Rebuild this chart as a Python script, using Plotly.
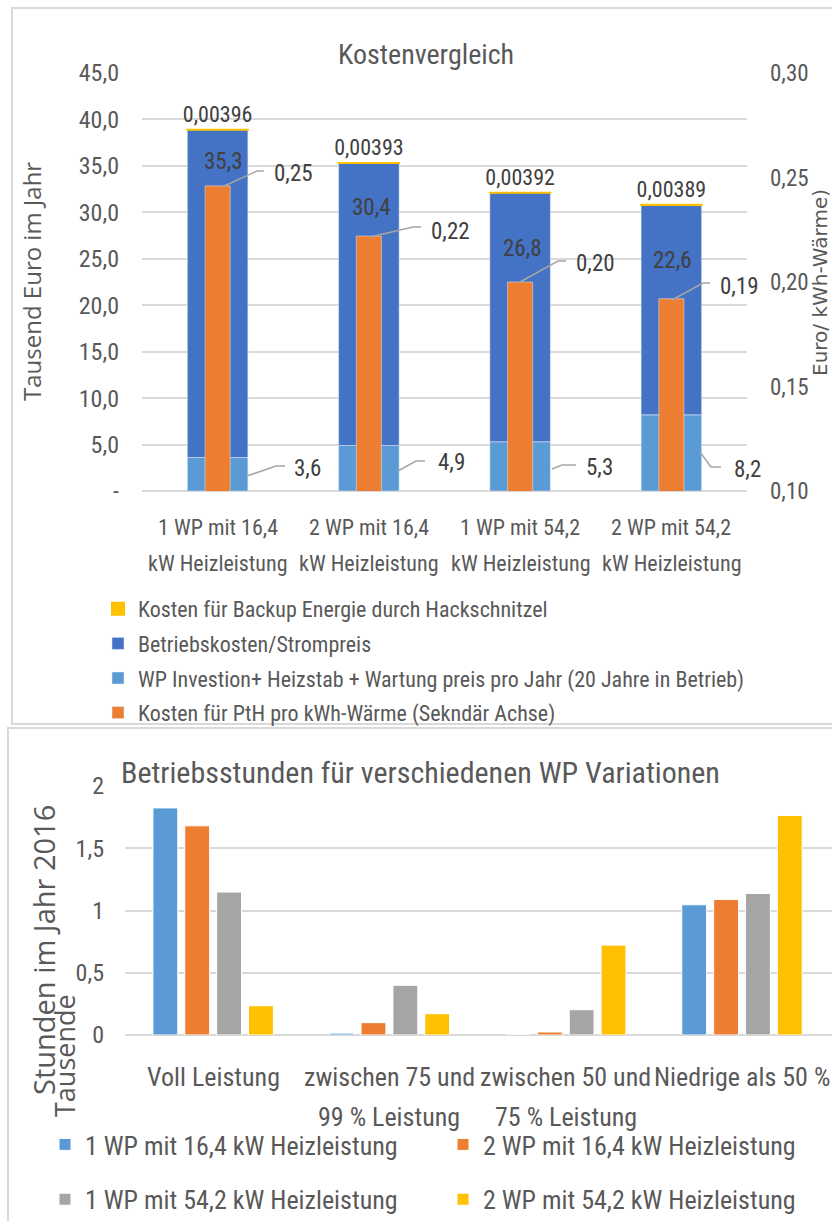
import plotly.graph_objects as go

W, H = 832, 1221

# ---------------- Kostenvergleich ----------------
cost_lines_1 = ["1 WP mit 16,4", "2 WP mit 16,4", "1 WP mit 54,2", "2 WP mit 54,2"]
cost_lines_2 = ["kW Heizleistung", "kW Heizleistung", "kW Heizleistung", "kW Heizleistung"]
invest = [3.6, 4.9, 5.3, 8.2]            # Tausend Euro / Jahr
betrieb = [35.3, 30.4, 26.8, 22.6]       # Tausend Euro / Jahr
backup = [0.00396, 0.00393, 0.00392, 0.00389]
pth = [0.246, 0.222, 0.200, 0.192]       # Euro / kWh-Wärme (secondary axis)

cost_tickvals = [0, 5, 10, 15, 20, 25, 30, 35, 40, 45]
cost_ticktext = ["-", "5,0", "10,0", "15,0", "20,0", "25,0", "30,0", "35,0", "40,0", "45,0"]
pth_tickvals = [0.10, 0.15, 0.20, 0.25, 0.30]

name_backup = "Kosten für Backup Energie durch Hackschnitzel"
name_betrieb = "Betriebskosten/Strompreis"
name_invest = "WP Investion+ Heizstab + Wartung preis pro Jahr (20 Jahre in Betrieb)"
name_pth = "Kosten für PtH pro kWh-Wärme (Sekndär Achse)"

# ---------------- Betriebsstunden ----------------
hour_lines_1 = ["Voll Leistung", "zwischen 75 und", "zwischen 50 und", "Niedrige als 50 %"]
hour_lines_2 = ["", "99 % Leistung", "75 % Leistung", ""]
hours_1wp_16 = [1.824, 0.015, 0.0, 1.046]   # Tausend Stunden
hours_2wp_16 = [1.680, 0.099, 0.024, 1.089]
hours_1wp_54 = [1.148, 0.399, 0.203, 1.137]
hours_2wp_54 = [0.235, 0.171, 0.722, 1.763]
hour_series = ["1 WP mit 16,4 kW Heizleistung", "2 WP mit 16,4 kW Heizleistung",
               "1 WP mit 54,2 kW Heizleistung", "2 WP mit 54,2 kW Heizleistung"]

# ---------------- styling ----------------
NARROW = "Liberation Sans Narrow, Arial Narrow, Roboto Condensed, Liberation Sans, sans-serif"
WIDE = "Open Sans, DejaVu Sans, sans-serif"
TXT = "#595959"
LBL = "#404040"
GRID = "#D9D9D9"
LEADER = "#A6A6A6"
C_LBLUE = "#5B9BD5"
C_DBLUE = "#4472C4"
C_ORANGE = "#ED7D31"
C_YELLOW = "#FFC000"
C_GREY = "#A5A5A5"


def px(x):
    return x / W


def py(y):
    return 1 - y / H


def de(v, nd):
    return f"{v:.{nd}f}".replace(".", ",")


def label(text, x, y, size, family=NARROW, color=TXT, angle=0, xref="paper"):
    """Centered text annotation; y is given in pixels from the top."""
    return dict(text=text, x=x, y=py(y), xref=xref, yref="paper", showarrow=False,
                xanchor="center", yanchor="middle", textangle=angle,
                font=dict(size=size, color=color, family=family))


cost_cats = [f"{a} {b}" for a, b in zip(cost_lines_1, cost_lines_2)]
hour_cats = [f"{a} {b}".strip() for a, b in zip(hour_lines_1, hour_lines_2)]

BW = 0.40     # stacked cost bar width (category units)
OW = 0.166    # PtH bar width

fig = go.Figure()

fig.add_trace(go.Bar(
    x=cost_cats, y=invest, name=name_invest, marker_color=C_LBLUE,
    width=BW, offset=-BW / 2, xaxis="x", yaxis="y", legend="legend", legendrank=3,
    legendgroup="c3"))
fig.add_trace(go.Bar(
    x=cost_cats, y=betrieb, base=invest, name=name_betrieb, marker_color=C_DBLUE,
    width=BW, offset=-BW / 2, xaxis="x", yaxis="y", legend="legend", legendrank=2,
    legendgroup="c2"))
fig.add_trace(go.Bar(
    x=cost_cats, y=backup, base=[a + b for a, b in zip(invest, betrieb)], name=name_backup,
    marker=dict(color=C_YELLOW, line=dict(color=C_YELLOW, width=2)),
    width=BW, offset=-BW / 2, xaxis="x", yaxis="y", legend="legend", legendrank=1,
    legendgroup="c1",
    texttemplate="%{y:.5f}", textposition="outside", constraintext="none", cliponaxis=False,
    textfont=dict(size=22, color=LBL, family=NARROW)))
fig.add_trace(go.Bar(
    x=cost_cats, y=pth, name=name_pth, marker_color=C_ORANGE,
    width=OW, offset=-OW / 2, xaxis="x", yaxis="y2", legend="legend", legendrank=4,
    legendgroup="c4"))

hour_values = [hours_1wp_16, hours_2wp_16, hours_1wp_54, hours_2wp_54]
hour_colors = [C_LBLUE, C_ORANGE, C_GREY, C_YELLOW]
hour_legends = ["legend2", "legend3", "legend2", "legend3"]
for i, (nm, vals, col, lg) in enumerate(zip(hour_series, hour_values, hour_colors, hour_legends)):
    fig.add_trace(go.Bar(
        x=hour_cats, y=vals, name=nm, marker=dict(color=col, line=dict(color="white", width=1)),
        xaxis="x2", yaxis="y3", legend=lg, legendgroup=f"h{i}"))

annotations = []

# titles
annotations.append(label("Kostenvergleich", px(426), 55, 28))
annotations.append(label("Betriebsstunden für verschiedenen WP Variationen", px(420), 772, 30))

# rotated axis titles
annotations.append(label("Tausend Euro im Jahr", px(31), 282, 24, family=WIDE, angle=-90))
annotations.append(label("Euro/ kWh-Wärme)", px(820), 283, 20, family="DejaVu Sans, Open Sans, sans-serif",
                         angle=-90))
annotations.append(label("Stunden im Jahr 2016", px(43), 950, 29, family=WIDE, angle=-90))
annotations.append(label("Tausende", px(64), 1056, 27, family=WIDE, angle=-90))

# two-line category labels
for c, l1, l2 in zip(cost_cats, cost_lines_1, cost_lines_2):
    annotations.append(label(l1, c, 527, 22, xref="x"))
    annotations.append(label(l2, c, 563, 22, xref="x"))
for c, l1, l2 in zip(hour_cats, hour_lines_1, hour_lines_2):
    annotations.append(label(l1, c, 1077, 26, xref="x2"))
    if l2:
        annotations.append(label(l2, c, 1117, 26, xref="x2"))

# value labels of the cost chart
betrieb_pos = [(223, 161), (371, 207), (522, 248), (672, 261)]
pth_pos = [(293, 173), (450, 231), (595, 263), (739, 286)]
invest_pos = [(307, 468), (451, 463), (599, 467), (747, 469)]
for v, (x, y) in zip(betrieb, betrieb_pos):
    annotations.append(label(de(v, 1), px(x), y, 23, color=LBL))
for v, (x, y) in zip(pth, pth_pos):
    annotations.append(label(de(v, 2), px(x), y, 23, color=LBL))
for v, (x, y) in zip(invest, invest_pos):
    annotations.append(label(de(v, 1), px(x), y, 23, color=LBL))

# leader lines (pixel polylines)
leaders = [
    [(222, 187), (257, 171), (264, 171)],
    [(370, 237), (413, 227), (421, 227)],
    [(520, 282), (558, 261), (566, 261)],
    [(672, 300), (703, 283), (710, 283)],
    [(247, 476), (276, 466), (285, 466)],
    [(398, 471), (416, 461), (425, 461)],
    [(552, 469), (562, 465), (576, 465)],
    [(700, 452), (711, 467), (721, 467)],
]
shapes = []
for pts in leaders:
    path = "M " + " L ".join(f"{px(x):.5f},{py(y):.5f}" for x, y in pts)
    shapes.append(dict(type="path", path=path, xref="paper", yref="paper",
                       line=dict(color=LEADER, width=1.5)))

# chart frames
shapes.append(dict(type="rect", xref="paper", yref="paper", x0=px(12), y0=py(724), x1=px(860), y1=py(8),
                   line=dict(color=GRID, width=2), layer="below"))
shapes.append(dict(type="rect", xref="paper", yref="paper", x0=px(8), y0=py(1240), x1=px(860), y1=py(728),
                   line=dict(color=GRID, width=2), layer="below"))

legend_common = dict(bgcolor="rgba(0,0,0,0)", orientation="v", xanchor="left", yanchor="top",
                     itemclick=False, itemdoubleclick=False)

fig.update_layout(
    width=W, height=H,
    margin=dict(l=0, r=0, t=0, b=0, pad=0, autoexpand=False),
    paper_bgcolor="white", plot_bgcolor="rgba(0,0,0,0)",
    separators=",.",
    barmode="group", bargap=0.277, bargroupgap=0.22,
    font=dict(family=NARROW, color=TXT),
    xaxis=dict(domain=[px(142), px(747)], type="category", anchor="y", automargin=False,
               showticklabels=False, showgrid=False, zeroline=False, showline=False),
    yaxis=dict(domain=[py(491), py(73)], range=[0, 45], anchor="x", automargin=False,
               tickvals=cost_tickvals, ticktext=cost_ticktext,
               showgrid=True, gridcolor=GRID, gridwidth=1.5,
               zeroline=True, zerolinecolor=GRID, zerolinewidth=1.5,
               ticks="", ticklabelstandoff=22, tickfont=dict(size=24, color=TXT, family=NARROW)),
    yaxis2=dict(overlaying="y", side="right", anchor="x", range=[0.10, 0.30], automargin=False,
                tickvals=pth_tickvals, tickformat=".2f",
                showgrid=False, zeroline=False, ticks="", ticklabelstandoff=22,
                tickfont=dict(size=23, color=TXT, family=NARROW)),
    xaxis2=dict(domain=[px(125), 1.0], type="category", anchor="y3", automargin=False,
                showticklabels=False, showgrid=False, zeroline=False, showline=False),
    yaxis3=dict(domain=[py(1035), py(786)], range=[0, 2], dtick=0.5, anchor="x2", automargin=False,
                showgrid=True, gridcolor=GRID, gridwidth=1.5,
                zeroline=True, zerolinecolor=GRID, zerolinewidth=1.5,
                ticks="", ticklabelstandoff=20, tickfont=dict(size=24, color=TXT, family=NARROW)),
    legend=dict(x=px(98), y=py(588), tracegroupgap=3,
                font=dict(size=22, color=TXT, family=NARROW), **legend_common),
    legend2=dict(x=px(45), y=py(1121), tracegroupgap=18,
                 font=dict(size=26, color=TXT, family=NARROW), **legend_common),
    legend3=dict(x=px(443), y=py(1121), tracegroupgap=18,
                 font=dict(size=26, color=TXT, family=NARROW), **legend_common),
    annotations=annotations,
    shapes=shapes,
)

fig.write_html("out.html")
